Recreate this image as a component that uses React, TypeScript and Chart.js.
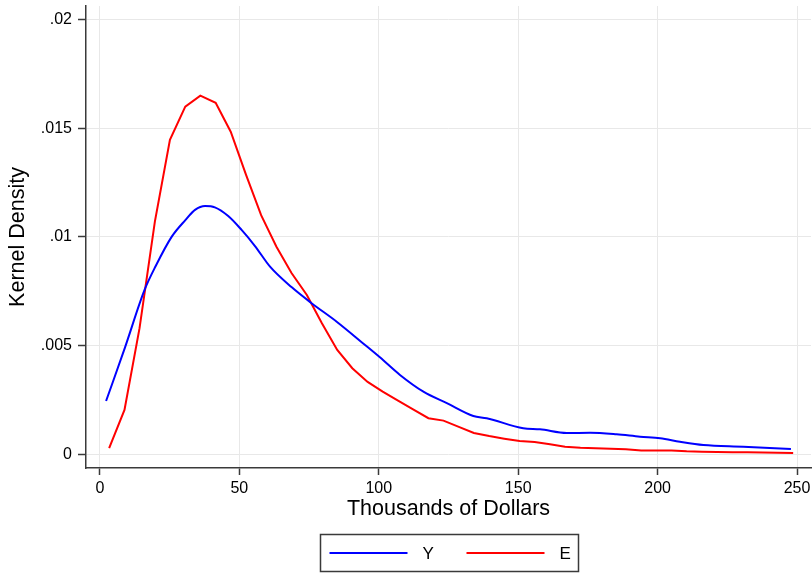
import React, { useEffect, useRef } from 'react';
import { Chart, registerables } from 'chart.js';

Chart.register(...registerables);

// ---- data ----
const SERIES_LABELS = ['Y', 'E'];
const SERIES_COLORS = ['#0000ff', '#ff0000'];

// Y (blue) kernel density
const Y_X = [2.2, 9, 16, 20, 25.7, 30.7, 34.1, 37.7, 41.2, 46, 50.8, 55.6, 61, 68.8, 75.9, 84.9, 94.4, 100.4, 107.6, 116, 124.4, 133.9, 138.7, 151.8, 157.8, 167.4, 175.8, 185.3, 193.7, 200.9, 208, 216.4, 230.7, 247.8];
const Y_Y = [0.00245, 0.00492, 0.00756, 0.00866, 0.0100, 0.01078, 0.01124, 0.01142, 0.01136, 0.01096, 0.01032, 0.00958, 0.00863, 0.00768, 0.00695, 0.0061, 0.0051, 0.00446, 0.00365, 0.00288, 0.00235, 0.00176, 0.00166, 0.0012, 0.00115, 0.00098, 0.00099, 0.00092, 0.00081, 0.00074, 0.00058, 0.00043, 0.00035, 0.00024];

// E (red) kernel density
const E_X = [3.3, 8.8, 14.2, 19.7, 25.1, 30.6, 36.0, 41.5, 46.9, 52.4, 57.8, 63.3, 68.7, 74.2, 79.6, 85.1, 90.5, 96.0, 101.4, 106.9, 112.3, 117.8, 123.2, 128.7, 134.1, 139.6, 145.0, 150.5, 155.9, 161.4, 166.8, 172.3, 177.7, 183.2, 188.6, 194.1, 199.5, 205.0, 210.4, 215.9, 221.3, 226.8, 232.2, 237.7, 243.1, 248.6];
const E_Y = [0.00028, 0.00204, 0.0058, 0.0107, 0.01446, 0.01599, 0.0165, 0.01617, 0.01484, 0.01285, 0.0110, 0.00955, 0.00834, 0.00733, 0.00603, 0.0048, 0.00396, 0.00333, 0.00288, 0.00247, 0.00207, 0.00166, 0.00155, 0.00126, 0.00098, 0.00084, 0.00072, 0.00061, 0.00057, 0.00046, 0.00035, 0.0003, 0.00028, 0.00026, 0.00023, 0.00018, 0.00017, 0.00018, 0.00014, 0.00012, 0.00011, 0.0001, 0.00009, 0.00008, 0.00007, 0.00006];

const X_TICKS = [0, 50, 100, 150, 200, 250];
const Y_TICKS = [0, 0.005, 0.01, 0.015, 0.02];
const X_TITLE = 'Thousands of Dollars';
const Y_TITLE = 'Kernel Density';

const FONT = "'Liberation Sans', Arial, Helvetica, sans-serif";
const AXIS_COLOR = '#3a3a3a';
const GRID_COLOR = '#e8e8e8';

const stataLegend = {
  id: 'stataLegend',
  afterDraw(chart: any) {
    const ctx = chart.ctx as CanvasRenderingContext2D;
    const ca = chart.chartArea;
    const cx = (ca.left + ca.right) / 2;
    const boxW = 258;
    const boxH = 37;
    const left = Math.round(cx - boxW / 2) + 0.5;
    const top = chart.height - 41 + 0.5;
    ctx.save();
    ctx.strokeStyle = AXIS_COLOR;
    ctx.lineWidth = 1.5;
    ctx.strokeRect(left, top, boxW, boxH);
    const midY = top + boxH / 2;
    chart.data.datasets.forEach((ds: any, i: number) => {
      const x0 = left + 9 + i * 137;
      ctx.strokeStyle = ds.borderColor;
      ctx.lineWidth = 2;
      ctx.beginPath();
      ctx.moveTo(x0, midY);
      ctx.lineTo(x0 + 78, midY);
      ctx.stroke();
      ctx.fillStyle = '#000';
      ctx.font = `17px ${FONT}`;
      ctx.textAlign = 'left';
      ctx.textBaseline = 'middle';
      ctx.fillText(ds.label, x0 + 93, midY + 1);
    });
    ctx.restore();
  },
};

const fmtY = (v: number) => (v === 0 ? '0' : String(v).replace(/^0\./, '.'));

export default function App() {
  const ref = useRef<HTMLCanvasElement>(null);
  useEffect(() => {
    Chart.defaults.font.family = FONT;
    const chart = new Chart(ref.current as HTMLCanvasElement, {
      type: 'line',
      data: {
        datasets: [
          {
            label: SERIES_LABELS[0],
            data: Y_X.map((x, i) => ({ x, y: Y_Y[i] })),
            borderColor: SERIES_COLORS[0],
            backgroundColor: SERIES_COLORS[0],
            borderWidth: 2,
            pointRadius: 0,
            fill: false,
            cubicInterpolationMode: 'monotone',
          },
          {
            label: SERIES_LABELS[1],
            data: E_X.map((x, i) => ({ x, y: E_Y[i] })),
            borderColor: SERIES_COLORS[1],
            backgroundColor: SERIES_COLORS[1],
            borderWidth: 2,
            pointRadius: 0,
            fill: false,
            tension: 0,
          },
        ],
      },
      options: {
        responsive: false,
        animation: false,
        devicePixelRatio: 1,
        layout: { padding: { top: 6, right: 1, left: 0, bottom: 50 } },
        plugins: { legend: { display: false }, tooltip: { enabled: false } },
        scales: {
          x: {
            type: 'linear',
            min: -5,
            max: 255,
            afterBuildTicks: (s: any) => {
              s.ticks = X_TICKS.map((v) => ({ value: v }));
            },
            afterFit: (s: any) => {
              s.height = 57;
              s.paddingLeft = 0;
              s.paddingRight = 0;
            },
            grid: { color: GRID_COLOR, lineWidth: 1, tickLength: 7, tickColor: AXIS_COLOR, tickWidth: 1.5 },
            border: { color: AXIS_COLOR, width: 1.5 },
            ticks: { color: '#000', font: { size: 16 }, padding: 4, autoSkip: false, maxRotation: 0, callback: (v: any) => String(v) },
            title: { display: true, text: X_TITLE, color: '#000', font: { size: 21.5 }, padding: { top: 0, bottom: 3 } },
          },
          y: {
            type: 'linear',
            min: -0.00063,
            max: 0.02062,
            afterBuildTicks: (s: any) => {
              s.ticks = Y_TICKS.map((v) => ({ value: v }));
            },
            afterFit: (s: any) => {
              s.width = 86;
              s.paddingTop = 0;
              s.paddingBottom = 0;
            },
            grid: { color: GRID_COLOR, lineWidth: 1, tickLength: 8, tickColor: AXIS_COLOR, tickWidth: 1.5 },
            border: { color: AXIS_COLOR, width: 1.5 },
            ticks: { color: '#000', font: { size: 16 }, padding: 6, callback: (v: any) => fmtY(Number(v)) },
            title: { display: true, text: Y_TITLE, color: '#000', font: { size: 21.5 }, padding: { top: 5, bottom: 0 } },
          },
        },
      },
      plugins: [stataLegend],
    } as any);
    return () => chart.destroy();
  }, []);
  return (
    <div style={{ position: 'absolute', left: 0, top: 0, width: 812, height: 575, background: '#fff' }}>
      <canvas ref={ref} width={812} height={575} style={{ display: 'block' }} />
    </div>
  );
}
